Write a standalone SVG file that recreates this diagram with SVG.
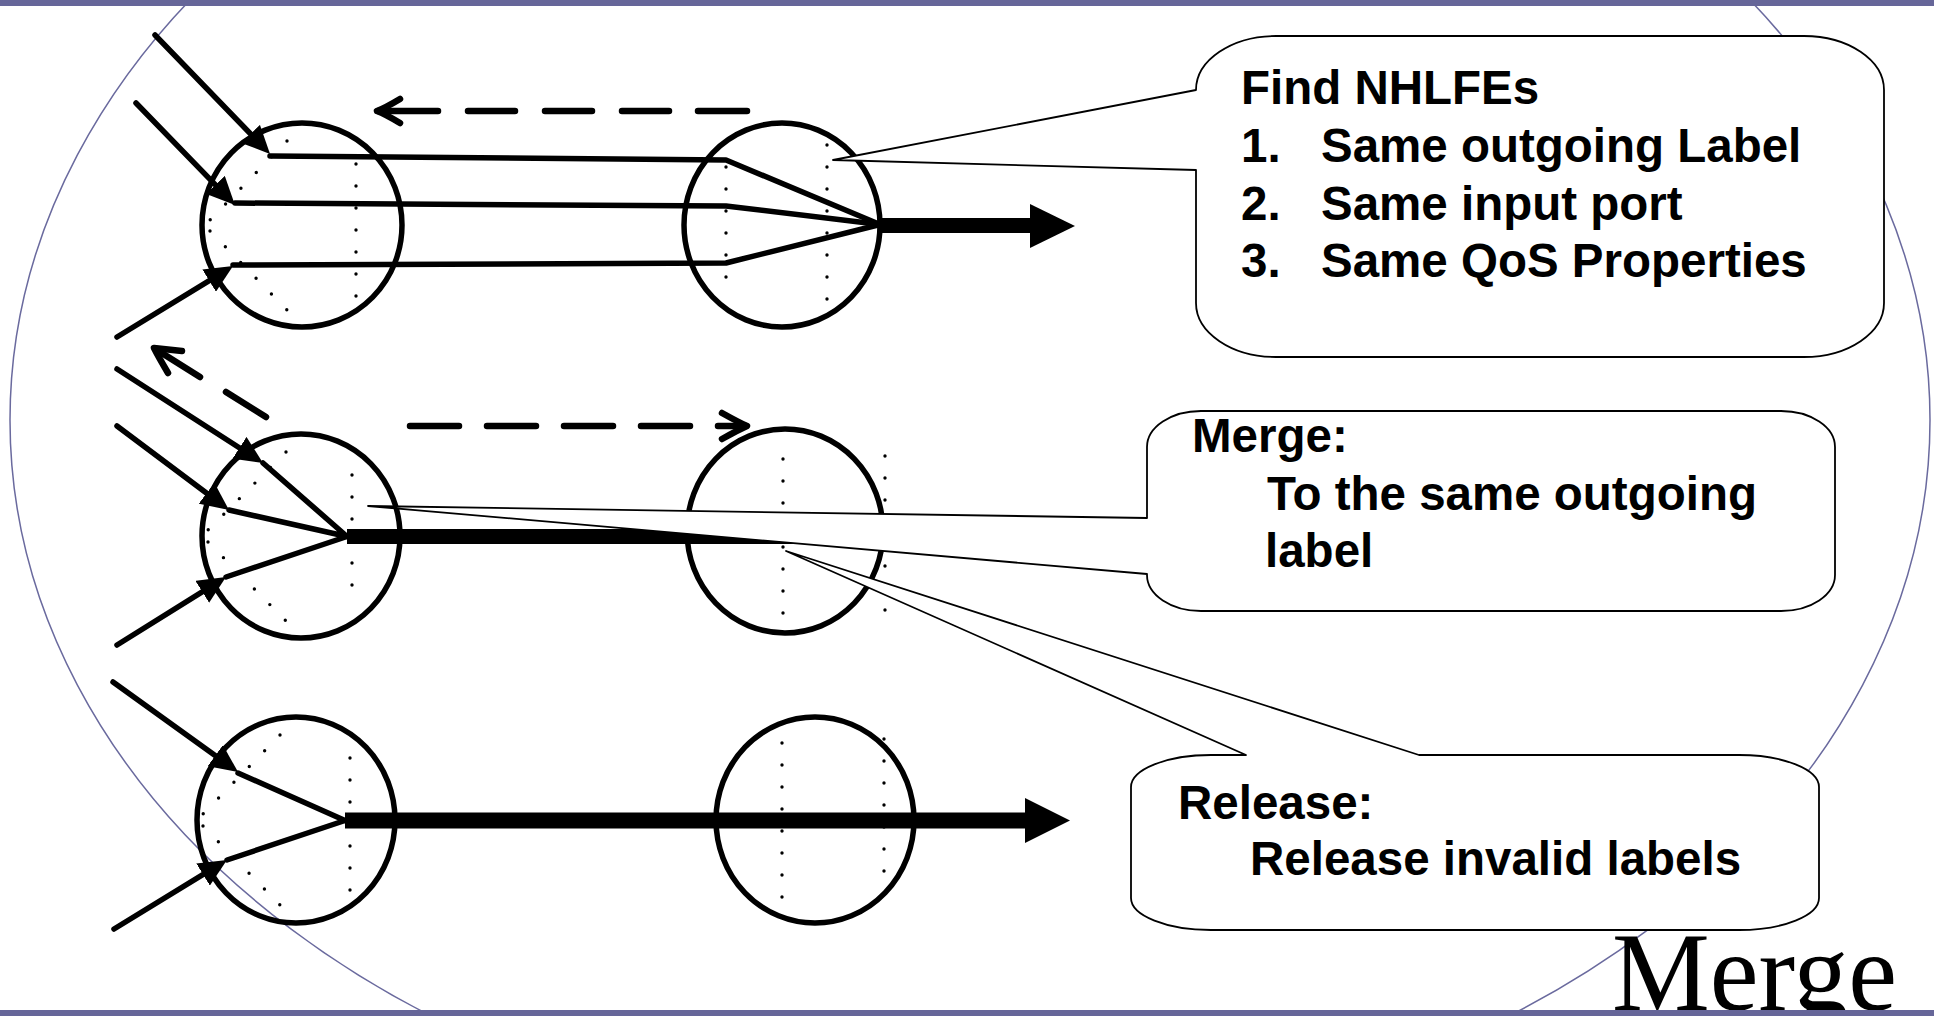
<svg xmlns="http://www.w3.org/2000/svg" width="1934" height="1016" viewBox="0 0 1934 1016">
<style>
.el{fill:none;stroke:#000;stroke-width:5.5}
.ln{fill:none;stroke:#000;stroke-width:5.5;stroke-linecap:round;stroke-linejoin:round}
.dot{fill:none;stroke:#000;stroke-width:3.4;stroke-linecap:round;stroke-dasharray:0 22}
.dash{fill:none;stroke:#000;stroke-width:6.5;stroke-linecap:round;stroke-linejoin:round}
.co{fill:#fff;stroke:#000;stroke-width:1.8;stroke-linejoin:round}
.t{font-family:"Liberation Sans",Arial,sans-serif;font-weight:bold;font-size:47.5px;fill:#000}
.bar{fill:#666699}
</style>
<defs>
<marker id="ah" markerUnits="userSpaceOnUse" markerWidth="28" markerHeight="26" viewBox="0 0 28 26" refX="16" refY="13" orient="auto"><path d="M0,0 L28,13 L0,26 Z" fill="#000"/></marker>
</defs>
<rect width="1934" height="1016" fill="#fff"/>
<ellipse id="frame" cx="970" cy="420" rx="960" ry="720" fill="none" stroke="#6A6A9E" stroke-width="1.5"/>

<g id="router-top-left">
<ellipse class="el" cx="302" cy="225" rx="100" ry="102"/>
<path class="dot" d="M287,141 L210,220 M210,231 L287,310 M356,164 V297"/>
</g>
<g id="router-top-right">
<ellipse class="el" cx="782" cy="225" rx="98" ry="102"/>
<path class="dot" d="M726,167 V299 M827,145 V300"/>
</g>
<g id="router-mid-left">
<ellipse class="el" cx="301" cy="536" rx="99" ry="102"/>
<path class="dot" d="M286,452 L208,530 M208,542 L286,621 M352,475 V607"/>
</g>
<g id="router-mid-right">
<ellipse class="el" cx="785" cy="531" rx="98" ry="102"/>
<path class="dot" d="M783,459 V615 M885,456 V612"/>
</g>
<g id="router-bottom-left">
<ellipse class="el" cx="296" cy="820" rx="99" ry="103"/>
<path class="dot" d="M280,735 L203,814 M203,826 L280,905 M350,758 V891"/>
</g>
<g id="router-bottom-right">
<ellipse class="el" cx="815" cy="820" rx="99" ry="103"/>
<path class="dot" d="M782,743 V899 M884,739 V895"/>
</g>

<g id="connectors">
<path class="ln" d="M155,35 L261.7,145.4" marker-end="url(#ah)"/>
<path class="ln" d="M136,103 L226.6,196.4" marker-end="url(#ah)"/>
<path class="ln" d="M117,337 L222.8,272.3" marker-end="url(#ah)"/>
<path class="ln" d="M270,156 L726,160 L880,224.5"/>
<path class="ln" d="M235,203 L726,206 L880,224.5"/>
<path class="ln" d="M233,265 L726,263 L880,224.5"/>
<path d="M880,225.5 H1032" stroke="#000" stroke-width="15" fill="none"/>
<path d="M1030,204 L1075,226 L1030,248 Z" fill="#000"/>
<path class="dash" d="M747,111 H698 M669,111 H622 M592,111 H545 M515,111 H468 M438,111 H378"/>
<path class="dash" d="M400,99 Q385,108 377,111 Q385,114 400,123"/>
<path class="ln" d="M117,369 L252.9,456.5" marker-end="url(#ah)"/>
<path class="ln" d="M117,426 L219.4,502.8" marker-end="url(#ah)"/>
<path class="ln" d="M117,645 L215.8,583.3" marker-end="url(#ah)"/>
<path class="ln" d="M263,463 L347,536.5 M229,510 L347,536.5 M226,577 L347,536.5"/>
<path d="M347,536.5 H800" stroke="#000" stroke-width="15" fill="none"/>
<path class="dash" d="M410,426 H459 M487,426 H536 M564,426 H613 M641,426 H690 M718,426 H746"/>
<path class="dash" d="M722,413 Q740,423 747,426 Q740,429 722,439"/>
<path class="dash" d="M266,417 L226,392 M200,377 L157,350"/>
<path class="dash" d="M168,373 Q158,356 154,348 Q163,349 182,351"/>
<path class="ln" d="M113,682 L228.3,765" stroke-width="7.5" marker-end="url(#ah)"/>
<path class="ln" d="M114,929 L216.7,866.2" marker-end="url(#ah)"/>
<path class="ln" d="M238,773 L345,820.5" stroke-width="7.5"/>
<path class="ln" d="M227,860 L345,820.5"/>
<path d="M345,820.5 H1027" stroke="#000" stroke-width="16" fill="none"/>
<path d="M1025,798 L1070,820.5 L1025,843 Z" fill="#000"/>
</g>

<g id="callout-find">
<path class="co" d="M1276,36 H1804 A80,54 0 0 1 1884,90 V303 A80,54 0 0 1 1804,357 H1276 A80,54 0 0 1 1196,303 V170 L833,160 L1196,90 A80,54 0 0 1 1276,36 Z"/>
<text class="t" x="1241" y="104">Find NHLFEs</text>
<text class="t" x="1241" y="162">1.</text>
<text class="t" x="1321" y="162">Same outgoing Label</text>
<text class="t" x="1241" y="220">2.</text>
<text class="t" x="1321" y="220">Same input port</text>
<text class="t" x="1241" y="277">3.</text>
<text class="t" x="1321" y="277">Same QoS Properties</text>
</g>
<g id="callout-merge">
<path class="co" d="M1201,411 H1781 A54,36 0 0 1 1835,447 V575 A54,36 0 0 1 1781,611 H1201 A54,36 0 0 1 1147,575 V574 L368,506 L1147,518 V447 A54,36 0 0 1 1201,411 Z"/>
<text class="t" x="1192" y="452">Merge:</text>
<text class="t" x="1267" y="510">To the same outgoing</text>
<text class="t" x="1265" y="567">label</text>
</g>
<g id="callout-release">
<path class="co" d="M1211,755 H1246 L786,551 L1419,755 H1739 A80,32 0 0 1 1819,787 V898 A80,32 0 0 1 1739,930 H1211 A80,32 0 0 1 1131,898 V787 A80,32 0 0 1 1211,755 Z"/>
<text class="t" x="1178" y="819">Release:</text>
<text class="t" x="1250" y="875">Release invalid labels</text>
</g>

<text id="title" x="1612" y="1010" font-family="Liberation Serif,'Times New Roman',serif" font-size="113" textLength="285" lengthAdjust="spacingAndGlyphs">Merge</text>
<rect class="bar" x="0" y="0" width="1934" height="6"/>
<rect class="bar" x="0" y="1010" width="1934" height="6"/>
</svg>
